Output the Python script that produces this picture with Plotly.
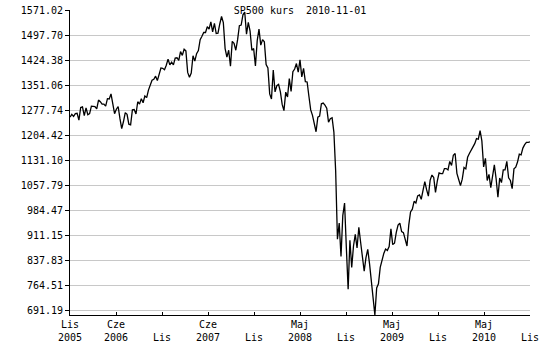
import plotly.graph_objects as go

# S&P 500 weekly closes, late Nov 2005 .. 2010-11-01
close_2005 = [1257, 1265, 1259, 1267, 1268, 1248]
close_2006 = [1285, 1287, 1261, 1284, 1264, 1267, 1289, 1289, 1288, 1281, 1307, 1302, 1295,
              1295, 1289, 1311, 1310, 1325, 1291, 1267, 1280, 1288, 1253, 1223, 1244, 1270,
              1265, 1236, 1234, 1278, 1279, 1266, 1302, 1295, 1311, 1299, 1319, 1314, 1336,
              1349, 1365, 1368, 1377, 1364, 1380, 1401, 1400, 1396, 1409, 1427, 1410, 1418]
close_2007 = [1410, 1430, 1431, 1423, 1449, 1438, 1456, 1451, 1388, 1374, 1386, 1437, 1421,
              1443, 1452, 1484, 1494, 1505, 1505, 1522, 1515, 1536, 1507, 1532, 1502, 1503,
              1530, 1552, 1534, 1458, 1433, 1453, 1406, 1479, 1473, 1453, 1484, 1525, 1527,
              1557, 1565, 1500, 1535, 1509, 1453, 1458, 1407, 1481, 1515, 1468, 1484, 1478]
close_2008 = [1411, 1401, 1325, 1310, 1395, 1331, 1349, 1353, 1331, 1294, 1276, 1330, 1316,
              1370, 1332, 1390, 1398, 1414, 1389, 1425, 1375, 1400, 1361, 1360, 1318, 1278,
              1262, 1240, 1214, 1257, 1260, 1296, 1298, 1292, 1283, 1242, 1252, 1255, 1213,
              1099, 899, 946, 848, 968, 1005, 873, 752, 896, 816, 879, 913, 873]
close_2009 = [934, 890, 850, 805, 845, 869, 827, 770, 735, 676.53, 756, 768, 816,
              842, 857, 870, 866, 877, 929, 883, 887, 919, 940, 946, 921, 918,
              896, 879, 940, 979, 987, 1010, 1005, 1026, 1029, 1016, 1042, 1068, 1044,
              1025, 1072, 1087, 1080, 1036, 1069, 1093, 1091, 1091, 1106, 1106, 1102, 1127, 1115]
close_2010 = [1145, 1150, 1092, 1074, 1056, 1075, 1109, 1105, 1139, 1150, 1160, 1167,
              1179, 1194, 1192, 1217, 1187, 1111, 1136, 1071, 1089, 1050, 1092, 1117, 1076,
              1022, 1078, 1065, 1102, 1102, 1127, 1079, 1071, 1047, 1105, 1110, 1125, 1148,
              1146, 1166, 1176, 1183, 1183, 1184]

sp500_close = close_2005 + close_2006 + close_2007 + close_2008 + close_2009 + close_2010

x_month_labels = ["Lis", "Cze", "", "Cze", "", "Maj", "", "Maj", "", "Maj", ""]
x_year_labels = ["2005", "2006", "Lis", "2007", "Lis", "2008", "Lis", "2009", "Lis", "2010", "Lis"]

y_tick_values = [691.19, 764.51, 837.83, 911.15, 984.47, 1057.79, 1131.10,
                 1204.42, 1277.74, 1351.06, 1424.38, 1497.70, 1571.02]
y_tick_labels = ["691.19", "764.51", "837.83", "911.15", "984.47", "1057.79", "1131.10",
                 "1204.42", "1277.74", "1351.06", "1424.38", "1497.70", "1571.02"]
y_range = [676.53, 1571.02]

n = len(sp500_close)
xs = list(range(n))
x_ticks = [(n - 1) * k / 10 for k in range(len(x_month_labels))]

FONT = dict(family="DejaVu Sans Mono", size=10, color="black")

fig = go.Figure()
fig.add_trace(go.Scatter(x=xs, y=sp500_close, mode="lines",
                         line=dict(color="black", width=1.3), hoverinfo="skip",
                         showlegend=False))
# empty helper trace so that the second (year-row) x axis is drawn
fig.add_trace(go.Scatter(x=[xs[0], xs[-1]], y=[None, None], xaxis="x2", yaxis="y",
                         mode="lines", hoverinfo="skip", showlegend=False))

fig.update_layout(
    width=550, height=350,
    margin=dict(l=70, r=20, t=10, b=35, pad=0, autoexpand=False),
    paper_bgcolor="white", plot_bgcolor="white",
    font=FONT,
    title=dict(text="SP500 kurs\u00a0 2010-11-01", font=FONT, automargin=False,
               x=0.5, xref="paper", xanchor="center",
               y=1 - 10.5 / 350, yref="container", yanchor="middle"),
    xaxis=dict(range=[0, n - 1], tickmode="array", tickvals=x_ticks, ticktext=x_month_labels,
               ticks="inside", ticklen=3, tickcolor="black", tickwidth=1,
               showline=True, linecolor="black", linewidth=1, automargin=False,
               showgrid=False, zeroline=False, tickfont=FONT, tickangle=0),
    xaxis2=dict(range=[0, n - 1], overlaying="x", anchor="y", side="bottom",
                tickmode="array", tickvals=x_ticks, ticktext=x_year_labels,
                ticks="", showline=False, showgrid=False, zeroline=False, automargin=False,
                tickfont=FONT, ticklabelstandoff=15, tickangle=0),
    yaxis=dict(range=y_range, tickmode="array", tickvals=y_tick_values, ticktext=y_tick_labels,
               ticks="outside", ticklen=4, tickcolor="black", tickwidth=1,
               showline=True, linecolor="black", linewidth=1, automargin=False,
               showgrid=True, gridcolor="#c8c8c8", gridwidth=1,
               zeroline=False, tickfont=FONT),
)

fig.write_html("out.html")
